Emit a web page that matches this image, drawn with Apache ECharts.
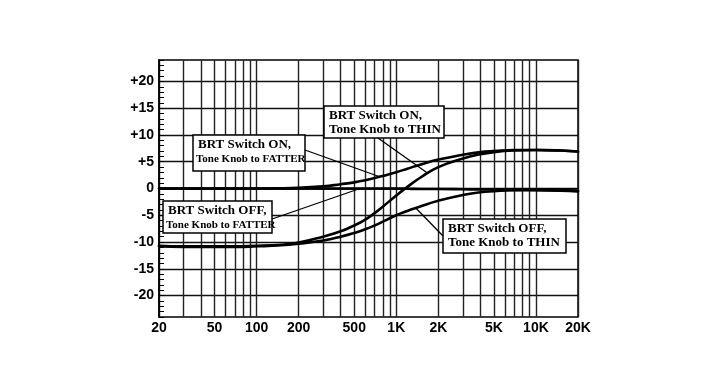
<!DOCTYPE html>
<html><head><meta charset="utf-8">
<script src="https://cdn.jsdelivr.net/npm/echarts@6/dist/echarts.min.js"></script>
<style>html,body{margin:0;padding:0;background:#fff}#c{width:712px;height:390px}</style>
</head><body><div id="c"></div>
<script>
// ---- data ----
const freqs = [20,30,50,70,100,150,200,300,400,500,600,700,800,1000,1200,1500,2000,3000,4000,5000,7000,10000,15000,20000];
const onFatter  = [0,0,0,0,0,0.05,0.15,0.4,0.8,1.15,1.55,1.95,2.35,3.05,3.7,4.5,5.4,6.3,6.8,7.0,7.2,7.2,7.1,6.9];
const onThin    = [-10.7,-10.8,-10.8,-10.8,-10.7,-10.5,-10.1,-9.0,-8.0,-6.9,-5.8,-4.6,-3.4,-1.3,0.3,2.1,4.0,5.6,6.4,6.8,7.1,7.2,7.1,6.9];
const offFatter = [0,0,0,0,0,0,0,0,0,0,0,0,0,0,-0.05,-0.1,-0.1,-0.15,-0.2,-0.2,-0.25,-0.3,-0.4,-0.5];
const offThin   = [-10.8,-10.9,-10.9,-10.9,-10.8,-10.6,-10.3,-9.7,-9.0,-8.3,-7.6,-6.9,-6.2,-5.0,-4.2,-3.3,-2.3,-1.2,-0.7,-0.5,-0.3,-0.25,-0.35,-0.5];
const xLabelValues = [20,50,100,200,500,1000,2000,5000,10000,20000];
const xGridValues = [20,30,40,50,60,70,80,90,100,200,300,400,500,600,700,800,900,1000,2000,3000,4000,5000,6000,7000,8000,9000,10000,20000];
const yLabelValues = [-20,-15,-10,-5,0,5,10,15,20];
const yMin = -24, yMax = 24;
const seriesNames = ['ON_FATTER','ON_THIN','OFF_FATTER','OFF_THIN'];
const seriesValues = [onFatter, onThin, offFatter, offThin];
const annLine1 = ['BRT Switch ON,','BRT Switch ON,','BRT Switch OFF,','BRT Switch OFF,'];
const annLine2 = ['Tone Knob to FATTER','Tone Knob to THIN','Tone Knob to FATTER','Tone Knob to THIN'];
const annFreq = [760, 1680, 550, 1380];

// ---- layout/styles ----
const annBox = [
  {x:193, y:135, w:112, h:36, s2:11, from:[305,150]},
  {x:324, y:106, w:120, h:32, s2:13, from:[378,138]},
  {x:163, y:201, w:109, h:32, s2:11, from:[272,219]},
  {x:443, y:219, w:123, h:34, s2:13, from:[443,236]}
];

const chart = echarts.init(document.getElementById('c'), null, {renderer:'canvas'});
const fmtX = v => v >= 1000 ? (v/1000) + 'K' : String(v);
const fmtY = v => v > 0 ? '+' + v : String(v);
const labelFont = {fontFamily:'Liberation Sans', fontWeight:'bold', fontSize:14, color:'#000'};

chart.setOption({
  animation:false,
  backgroundColor:'#fff',
  grid:{left:159, right:134, top:60, bottom:73, show:true, borderColor:'#000', borderWidth:1.5, backgroundColor:'transparent'},
  xAxis:{
    type:'log', logBase:10, min:20, max:20000,
    axisLine:{show:true, lineStyle:{color:'#000', width:1.5}},
    axisTick:{show:false, customValues:xGridValues},
    axisLabel:Object.assign({customValues:xLabelValues, formatter:fmtX, margin:4}, labelFont),
    splitLine:{show:true, lineStyle:{color:'#222', width:1.4}},
    minorSplitLine:{show:false}
  },
  yAxis:[{
    type:'value', min:yMin, max:yMax,
    axisLine:{show:true, lineStyle:{color:'#000', width:1.5}},
    axisTick:{show:false, customValues:yLabelValues},
    axisLabel:Object.assign({customValues:yLabelValues, formatter:fmtY, margin:5}, labelFont),
    splitLine:{show:true, lineStyle:{color:'#111', width:1.4}}
  },{
    type:'value', min:yMin, max:yMax, interval:1, position:'left',
    axisLine:{show:false},
    axisTick:{show:true, inside:true, length:5, lineStyle:{color:'#000', width:1}},
    axisLabel:{show:false}, splitLine:{show:false}
  }],
  series: seriesValues.map((arr,i)=>({
    name:seriesNames[i], type:'line', yAxisIndex:0,
    data: freqs.map((f,j)=>[f, arr[j]]),
    smooth:0.5, showSymbol:false, symbol:'none',
    lineStyle:{color:'#000', width:2.6, cap:'round', join:'round'}, z:5
  }))
});

function valueAt(arr, f){
  for (let j=0;j<freqs.length-1;j++){
    if (f>=freqs[j] && f<=freqs[j+1]){
      const t=(Math.log(f)-Math.log(freqs[j]))/(Math.log(freqs[j+1])-Math.log(freqs[j]));
      return arr[j]+t*(arr[j+1]-arr[j]);
    }
  }
  return arr[arr.length-1];
}

const graphics = [];
annBox.forEach((b,i)=>{
  const p = chart.convertToPixel({gridIndex:0}, [annFreq[i], valueAt(seriesValues[i], annFreq[i])]);
  graphics.push({type:'line', z:10, shape:{x1:b.from[0], y1:b.from[1], x2:p[0], y2:p[1]}, style:{stroke:'#000', lineWidth:1.3}});
});
annBox.forEach((b,i)=>{
  graphics.push({type:'rect', z:11, shape:{x:b.x, y:b.y, width:b.w, height:b.h}, style:{fill:'#fff', stroke:'#000', lineWidth:1.5}});
  graphics.push({type:'text', z:12, x:b.x+5, y:b.y+3, style:{text:annLine1[i], font:'bold 13px "Liberation Serif"', fill:'#000'}});
  graphics.push({type:'text', z:12, x:b.x+(b.s2<13?3:5), y:b.y+(b.s2<13?19:17), style:{text:annLine2[i], font:'bold '+b.s2+'px "Liberation Serif"', fill:'#000'}});
});
chart.setOption({graphic:graphics});
</script>
</body></html>
